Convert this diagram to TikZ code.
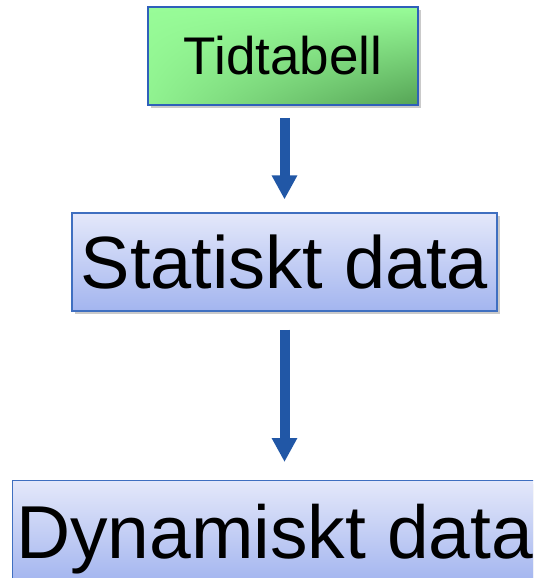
\documentclass[tikz,border=0pt]{standalone}
\usepackage{fontspec}
\setmainfont{Liberation Sans}
\usetikzlibrary{arrows.meta,shadows,shadings}

\definecolor{arrowblue}{HTML}{2157A6}
\definecolor{boxedge}{HTML}{3F6FC0}
\definecolor{greenedge}{HTML}{2F60BA}
\definecolor{bluetop}{HTML}{E4E8FA}
\definecolor{bluebot}{HTML}{A3B5EF}
\definecolor{greenlight}{HTML}{98FC98}
\definecolor{greenmid}{HTML}{90F290}
\definecolor{greendark}{HTML}{55A355}

\tikzset{
  boxshadow/.style={drop shadow={shadow xshift=2.5pt, shadow yshift=-3pt, opacity=0.35, fill=black!60}},
  greenbox/.style={draw=greenedge, line width=1.6pt, boxshadow,
    upper left=greenlight, upper right=greenlight, lower left=greenmid, lower right=greendark,
    inner sep=0pt},
  bluebox/.style={draw=boxedge, line width=1.2pt, boxshadow,
    top color=bluetop, bottom color=bluebot, inner sep=0pt},
  flowarrow/.style={draw=arrowblue, line width=10pt,
    -{Triangle[length=24pt, width=24pt]}},
}

\begin{document}
\begin{tikzpicture}[x=1pt, y=-1pt]
  \useasboundingbox (0,0) rectangle (533,578);
  \clip (0,0) rectangle (533,578);

  % source box
  \node[greenbox, minimum width=270pt, minimum height=98pt,
        font=\fontsize{53}{60}\selectfont] (tid) at (283,56) {Tidtabell};

  % static data box
  \node[bluebox, minimum width=425pt, minimum height=98pt,
        font=\fontsize{74}{84}\selectfont] (stat) at (284.5,262) {Statiskt data};

  % dynamic data box, running past the right and bottom edges
  \node[bluebox, minimum width=540pt, minimum height=102pt, anchor=north west]
        (dyn) at (12,480) {};
  \node[inner sep=0pt, anchor=base west, font=\fontsize{75}{86}\selectfont]
        (dyntext) at (16,558) {Dynamiskt data};

  % connectors
  \draw[flowarrow, shorten <=12pt, shorten >=13pt] (stat.north |- tid.south) -- (stat.north);
  \draw[flowarrow, shorten <=18pt, shorten >=18pt] (stat.south) -- (stat.south |- dyn.north);
\end{tikzpicture}
\end{document}
